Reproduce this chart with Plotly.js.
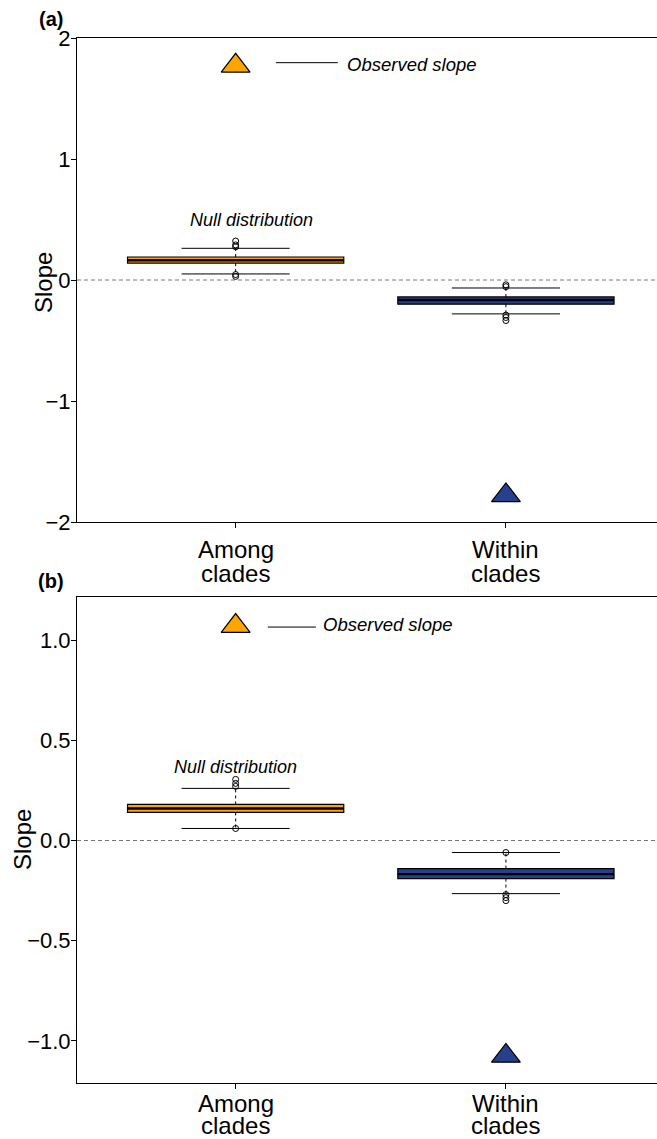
<!DOCTYPE html>
<html>
<head>
<meta charset="utf-8">
<script src="https://cdn.plot.ly/plotly-3.0.1.min.js"></script>
<style>html,body{margin:0;padding:0;background:#fff;}#chart{width:657px;height:1139px;}</style>
</head>
<body>
<div id="chart"></div>
<script>
// ---------- data ----------
const categories = ['Among<br>clades', 'Within<br>clades'];
const xPos = [1, 2];
const boxColors = ['#FFA500', '#27408B'];

// Panel (a)
const aQ1 = [0.140, -0.200];
const aMedian = [0.163, -0.165];
const aQ3 = [0.190, -0.140];
const aLowWhisker = [0.050, -0.280];
const aHighWhisker = [0.262, -0.066];
const aOutAmong = [0.322, 0.290, 0.275, 0.045, 0.030];
const aOutWithin = [-0.040, -0.055, -0.290, -0.310, -0.335];
const aObserved = [1.77, -1.78];
const aTicks = [-2, -1, 0, 1, 2];
const aTickText = ['\u22122', '\u22121', '0', '1', '2'];

// Panel (b)
const bQ1 = [0.140, -0.190];
const bMedian = [0.160, -0.168];
const bQ3 = [0.180, -0.140];
const bLowWhisker = [0.060, -0.265];
const bHighWhisker = [0.260, -0.060];
const bOutAmong = [0.305, 0.285, 0.270, 0.060];
const bOutWithin = [-0.060, -0.270, -0.285, -0.300];
const bObserved = [1.07, -1.075];
const bTicks = [-1.0, -0.5, 0.0, 0.5, 1.0];
const bTickText = ['\u22121.0', '\u22120.5', '0.0', '0.5', '1.0'];

// ---------- build ----------
const FONT = 'Liberation Sans, Arial, sans-serif';
const BOXW = 0.8, CAPW = 0.4;
const traces = [];

function addPanel(xa, ya, q1, med, q3, lo, hi, outA, outW, obs) {
  for (let i = 0; i < xPos.length; i++) {
    const x = xPos[i];
    traces.push({type:'scatter', mode:'lines', xaxis:xa, yaxis:ya, x:[x, x], y:[q3[i], hi[i]],
      line:{color:'#000', width:1, dash:'3px,3px'}, hoverinfo:'skip', showlegend:false});
    traces.push({type:'scatter', mode:'lines', xaxis:xa, yaxis:ya, x:[x, x], y:[q1[i], lo[i]],
      line:{color:'#000', width:1, dash:'3px,3px'}, hoverinfo:'skip', showlegend:false});
    traces.push({type:'scatter', mode:'lines', xaxis:xa, yaxis:ya, x:[x - CAPW/2, x + CAPW/2], y:[hi[i], hi[i]],
      line:{color:'#000', width:1}, hoverinfo:'skip', showlegend:false});
    traces.push({type:'scatter', mode:'lines', xaxis:xa, yaxis:ya, x:[x - CAPW/2, x + CAPW/2], y:[lo[i], lo[i]],
      line:{color:'#000', width:1}, hoverinfo:'skip', showlegend:false});
    traces.push({type:'box', xaxis:xa, yaxis:ya, x:[x], q1:[q1[i]], median:[med[i]], q3:[q3[i]],
      lowerfence:[q1[i]], upperfence:[q3[i]], width:BOXW, fillcolor:boxColors[i],
      line:{color:'#000', width:1.2}, whiskerwidth:0, boxpoints:false, hoverinfo:'skip', showlegend:false});
    traces.push({type:'scatter', mode:'lines', xaxis:xa, yaxis:ya, x:[x - BOXW/2, x + BOXW/2], y:[med[i], med[i]],
      line:{color:'#000', width:2.4}, hoverinfo:'skip', showlegend:false});
  }
  traces.push({type:'scatter', mode:'markers', xaxis:xa, yaxis:ya, x:outA.map(() => xPos[0]), y:outA,
    marker:{symbol:'circle-open', size:6, color:'#000', line:{width:1}}, hoverinfo:'skip', showlegend:false});
  traces.push({type:'scatter', mode:'markers', xaxis:xa, yaxis:ya, x:outW.map(() => xPos[1]), y:outW,
    marker:{symbol:'circle-open', size:6, color:'#000', line:{width:1}}, hoverinfo:'skip', showlegend:false});
  traces.push({type:'scatter', mode:'markers', xaxis:xa, yaxis:ya, x:xPos, y:obs,
    marker:{symbol:'triangle-up', size:25, color:boxColors, line:{color:'#000', width:1.2}},
    hoverinfo:'skip', showlegend:false});
}

addPanel('x', 'y', aQ1, aMedian, aQ3, aLowWhisker, aHighWhisker, aOutAmong, aOutWithin, aObserved);
addPanel('x2', 'y2', bQ1, bMedian, bQ3, bLowWhisker, bHighWhisker, bOutAmong, bOutWithin, bObserved);

const H = 1139, W = 657;
const xDom = [77 / W, 1];
const aDom = [1 - 522 / H, 1 - 38 / H];
const bDom = [1 - 1083 / H, 1 - 597 / H];

function xAxis(anchor) {
  return {domain: xDom, range: [0.413, 2.559], anchor: anchor, tickvals: xPos, showticklabels: false,
    showline: true, linecolor: '#000', linewidth: 1, mirror: true, ticks: 'outside', ticklen: 5,
    tickcolor: '#000', showgrid: false, zeroline: false};
}
function yAxis(anchor, dom, range, tv, tt) {
  return {domain: dom, range: range, anchor: anchor, tickvals: tv, ticktext: tt,
    showline: true, linecolor: '#000', linewidth: 1, ticks: 'outside', ticklen: 5, tickcolor: '#000',
    ticklabelstandoff: -4,
    showgrid: false, zeroline: false, tickfont: {family: FONT, size: 22, color: '#000'}};
}

const shapes = [
  {type:'line', xref:'x domain', yref:'y', x0:0, x1:1, y0:0, y1:0, line:{color:'#777', width:1, dash:'4px,3px'}, layer:'below'},
  {type:'line', xref:'x2 domain', yref:'y2', x0:0, x1:1, y0:0, y1:0, line:{color:'#777', width:1, dash:'4px,3px'}, layer:'below'},
  {type:'line', xref:'x', yref:'y', x0:1.149, x1:1.378, y0:1.796, y1:1.796, line:{color:'#000', width:1}},
  {type:'line', xref:'x2', yref:'y2', x0:1.119, x1:1.297, y0:1.065, y1:1.065, line:{color:'#000', width:1}}
];

function pa(px, py, text, size, extra) {
  return Object.assign({xref:'paper', yref:'paper', x:px / W, y:1 - py / H, xanchor:'center', yanchor:'middle',
    text:text, showarrow:false, font:{family:FONT, size:size, color:'#000'}}, extra || {});
}

const annotations = [
  pa(51, 19, '<b>(a)</b>', 20),
  pa(51, 581, '<b>(b)</b>', 20),
  pa(43, 283, 'Slope', 24, {textangle:-90}),
  pa(22, 840, 'Slope', 24, {textangle:-90}),
  {xref:'x', yref:'y', x:1.06, y:0.496, xanchor:'center', yanchor:'middle', text:'<i>Null distribution</i>', showarrow:false, font:{family:FONT, size:18, color:'#000'}},
  {xref:'x2', yref:'y2', x:1.0, y:0.365, xanchor:'center', yanchor:'middle', text:'<i>Null distribution</i>', showarrow:false, font:{family:FONT, size:18, color:'#000'}},
  {xref:'x', yref:'y', x:1.404, y:1.777, xanchor:'left', yanchor:'middle', text:'<i>Observed slope</i>', showarrow:false, font:{family:FONT, size:18.5, color:'#000'}},
  {xref:'x2', yref:'y2', x:1.315, y:1.08, xanchor:'left', yanchor:'middle', text:'<i>Observed slope</i>', showarrow:false, font:{family:FONT, size:18.5, color:'#000'}}
];

// category labels (two tight lines, as in the reference)
const labelRows = [[549, 573], [1103, 1125]];
const xRefs = ['x', 'x2'];
labelRows.forEach((rows, p) => {
  categories.forEach((cat, i) => {
    cat.split('<br>').forEach((line, k) => {
      annotations.push({xref:xRefs[p], yref:'paper', x:xPos[i], y:1 - rows[k] / H, xanchor:'center', yanchor:'middle',
        text:line, showarrow:false, font:{family:FONT, size:24, color:'#000'}});
    });
  });
});

const layout = {
  width: W, height: H, margin: {l:0, r:0, t:0, b:0}, paper_bgcolor:'#fff', plot_bgcolor:'#fff',
  showlegend: false,
  xaxis: xAxis('y'), yaxis: yAxis('x', aDom, [-2, 2], aTicks, aTickText),
  xaxis2: xAxis('y2'), yaxis2: yAxis('x2', bDom, [-1.21, 1.215], bTicks, bTickText),
  shapes: shapes, annotations: annotations
};

Plotly.newPlot('chart', traces, layout, {displayModeBar:false, staticPlot:true});
</script>
</body>
</html>
